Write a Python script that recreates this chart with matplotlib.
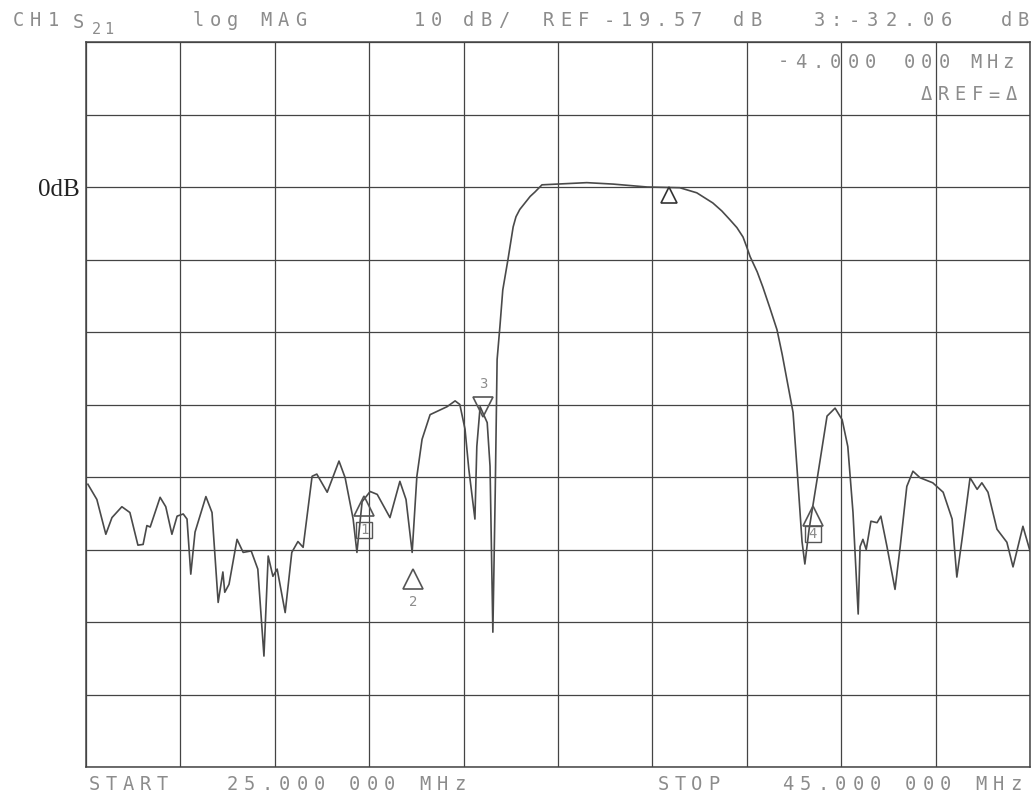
import matplotlib
matplotlib.use('Agg')
import matplotlib.pyplot as plt

# S21 trace (MHz, dB)
freq_mhz = [25.04, 25.23, 25.42, 25.55, 25.76, 25.93, 26.10, 26.21, 26.29, 26.36,
            26.57, 26.69, 26.82, 26.93, 27.06, 27.14, 27.22, 27.31, 27.54, 27.67,
            27.80, 27.90, 27.94, 28.03, 28.20, 28.33, 28.50, 28.64, 28.77, 28.86,
            28.96, 29.05, 29.22, 29.36, 29.49, 29.60, 29.79, 29.89, 30.11, 30.36,
            30.49, 30.66, 30.74, 30.85, 31.02, 31.17, 31.44, 31.65, 31.78, 31.91,
            32.01, 32.12, 32.29, 32.65, 32.82, 32.92, 33.03, 33.11, 33.24, 33.28,
            33.35, 33.50, 33.56, 33.62, 33.67, 33.71, 33.77, 33.83, 33.94, 34.05,
            34.11, 34.19, 34.30, 34.41, 34.51, 34.66, 34.98, 35.61, 36.17, 36.89,
            37.58, 37.94, 38.28, 38.47, 38.64, 38.79, 38.92, 39.00, 39.07, 39.22,
            39.34, 39.49, 39.64, 39.75, 39.85, 39.98, 40.08, 40.17, 40.23, 40.32,
            40.49, 40.70, 40.87, 41.02, 41.14, 41.25, 41.36, 41.40, 41.46, 41.53,
            41.63, 41.76, 41.84, 41.97, 42.14, 42.25, 42.39, 42.52, 42.67, 42.94,
            43.16, 43.35, 43.45, 43.56, 43.73, 43.88, 43.98, 44.11, 44.30, 44.51,
            44.64, 44.85, 45.00]
s21_db = [-41.0, -43.1, -47.9, -45.6, -44.1, -44.9, -49.4, -49.3, -46.7, -46.9,
          -42.8, -44.1, -47.9, -45.4, -45.1, -45.8, -53.4, -47.6, -42.7, -44.9,
          -57.3, -53.1, -55.9, -54.8, -48.6, -50.4, -50.2, -52.7, -64.7, -50.9,
          -53.7, -52.7, -58.7, -50.4, -48.9, -49.7, -39.9, -39.6, -42.1, -37.8,
          -40.1, -45.8, -50.4, -43.4, -42.0, -42.4, -45.6, -40.6, -43.1, -50.4,
          -39.9, -34.8, -31.4, -30.3, -29.5, -30.0, -33.4, -38.9, -45.8, -35.8,
          -30.3, -32.5, -38.5, -61.4, -42.1, -23.8, -19.2, -14.2, -10.0, -5.5,
          -4.1, -3.1, -2.2, -1.3, -0.7, 0.3, 0.4, 0.6, 0.4, 0.0,
          -0.1, -0.8, -2.2, -3.3, -4.5, -5.6, -6.9, -8.3, -9.6, -11.7,
          -13.8, -16.7, -19.7, -23.1, -26.6, -31.1, -40.3, -48.9, -52.0, -47.2,
          -40.3, -31.6, -30.5, -32.1, -35.8, -44.9, -58.9, -49.6, -48.6, -50.0,
          -46.1, -46.3, -45.4, -49.6, -55.5, -49.6, -41.3, -39.2, -40.1, -40.8,
          -42.1, -45.8, -53.8, -48.6, -40.1, -41.7, -40.8, -42.1, -47.2, -49.0,
          -52.4, -46.8, -50.2]

# markers: label, freq, dB (triangle centre), direction, label dB
marker_labels = ['1', '2', '3', '4']
marker_freq = [30.89, 31.93, 33.41, 40.40]
marker_db = [-44.0, -54.1, -30.4, -45.4]
marker_dirs = ['^', '^', 'v', '^']
marker_label_db = [-47.3, -57.3, -27.2, -47.9]
ref_marker = (37.35, -1.1)

W, H = 1033, 796
INK = '#444444'
PEN = '#8c8c8c'

fig = plt.figure(figsize=(W / 100, H / 100), dpi=100)
ax = fig.add_axes([86 / W, 1 - 767 / H, (1030 - 86) / W, (767 - 42) / H])
ax.set_xlim(25, 45)
ax.set_ylim(-80, 20)
ax.set_xticks(range(25, 46, 2))
ax.set_yticks(range(-80, 21, 10))
ax.tick_params(length=0, labelbottom=False, labelleft=False)
ax.grid(True, color=INK, linewidth=0.9)
for sp in ax.spines.values():
    sp.set_color(INK)
    sp.set_linewidth(1.1)

ax.plot(freq_mhz, s21_db, color='#4a4a4a', linewidth=1.2)

for lab, f, db, d, ldb in zip(marker_labels, marker_freq, marker_db, marker_dirs, marker_label_db):
    ax.plot(f, db, marker=d, markersize=15, markerfacecolor='none',
            markeredgecolor='#555555', markeredgewidth=1.2)
    if lab in ('1', '4'):
        ax.plot(f, ldb, marker='s', markersize=11, markerfacecolor='none',
                markeredgecolor='#555555', markeredgewidth=1.0)
    ax.text(f, ldb, lab, ha='center', va='center', fontsize=10,
            family='DejaVu Sans Mono', color=PEN)
ax.plot(ref_marker[0], ref_marker[1], marker='^', markersize=11,
        markerfacecolor='none', markeredgecolor='#333333', markeredgewidth=1.2)


def plotter_text(x, y, s, size=13.5, pitch=17.5):
    # the plotter font is widely spaced, so place each character on its own
    for i, ch in enumerate(s):
        if ch == ' ':
            continue
        fig.text((x + 6 + i * pitch) / W, 1 - y / H, ch, ha='center', va='center',
                 fontsize=size, family='DejaVu Sans Mono', color=PEN)


# header line
plotter_text(12, 21, 'CH1')
plotter_text(72, 23, 'S')
plotter_text(90, 30, '21', size=11, pitch=13)
plotter_text(192, 21, 'log')
plotter_text(260, 21, 'MAG')
plotter_text(413, 21, '10')
plotter_text(463, 21, 'dB/')
plotter_text(542, 21, 'REF')
plotter_text(603, 21, '-19.57')
plotter_text(733, 21, 'dB')
plotter_text(813, 21, '3:')
plotter_text(848, 21, '-32.06', pitch=18.5)
plotter_text(1000, 21, 'dB')

# marker readout inside the grid
plotter_text(777, 62, '-4.000')
plotter_text(903, 62, '000')
plotter_text(970, 62, 'MHz', pitch=16)
plotter_text(920, 95, '\u0394REF=\u0394', pitch=17)

# footer
plotter_text(88, 784, 'START', pitch=17)
plotter_text(226, 784, '25.000 000 MHz')
plotter_text(657, 784, 'STOP', pitch=17)
plotter_text(782, 784, '45.000 000 MHz')

fig.text(80 / W, 1 - 190 / H, '0dB', ha='right', va='center', fontsize=18,
         family='Liberation Serif', color='#222222')

fig.savefig('out.png', dpi=100, facecolor='white')
